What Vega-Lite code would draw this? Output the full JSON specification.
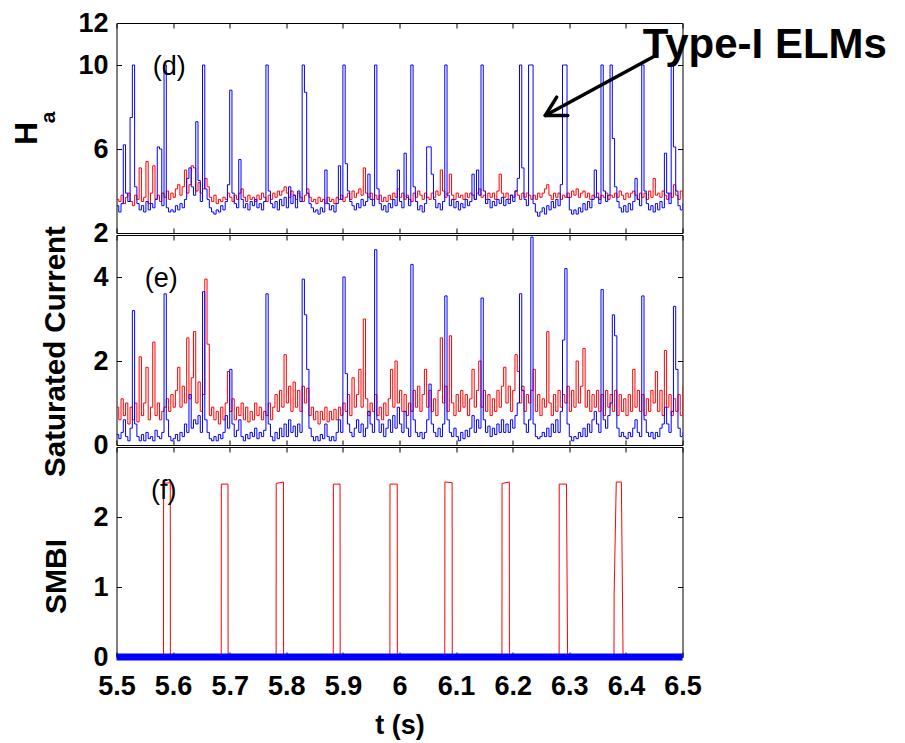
{
"$schema": "https://vega.github.io/schema/vega-lite/v6.json",
"background": "white",
"padding": {"left": 9.5, "top": 8, "right": 5, "bottom": 5},
"config": {
  "view": {"stroke": "black", "strokeWidth": 1},
  "font": "Liberation Sans",
  "axis": {"zindex": 1, "grid": false, "domain": false, "tickColor": "black", "tickSize": -5, "tickWidth": 1, "labelColor": "black", "labelFont": "Liberation Sans", "labelFontWeight": "bold", "titleColor": "black", "titleFont": "Liberation Sans", "titleFontWeight": "bold", "labelOverlap": false, "labelFlush": false}
},
"datasets": {
"sig": [
{"t":5.500,"hb":3.3,"hr":3.6,"sb":0.25,"sr":0.9},
{"t":5.504,"hb":3.0,"hr":3.5,"sb":0.15,"sr":0.6},
{"t":5.508,"hb":3.4,"hr":3.8,"sb":0.3,"sr":1.1},
{"t":5.512,"hb":6.2,"hr":3.4,"sb":0.6,"sr":0.7},
{"t":5.516,"hb":3.9,"hr":3.7,"sb":0.2,"sr":1.0},
{"t":5.520,"hb":3.5,"hr":3.9,"sb":0.1,"sr":0.5},
{"t":5.524,"hb":7.5,"hr":3.5,"sb":0.4,"sr":0.9},
{"t":5.528,"hb":10,"hr":3.3,"sb":3.2,"sr":0.6},
{"t":5.532,"hb":4.2,"hr":3.8,"sb":0.5,"sr":1.0},
{"t":5.536,"hb":3.4,"hr":3.6,"sb":0.2,"sr":0.55},
{"t":5.540,"hb":3.1,"hr":5.1,"sb":0.1,"sr":2.1},
{"t":5.544,"hb":3.3,"hr":3.5,"sb":0.25,"sr":0.7},
{"t":5.548,"hb":3.0,"hr":3.7,"sb":0.1,"sr":1.0},
{"t":5.552,"hb":3.5,"hr":5.4,"sb":0.3,"sr":1.85},
{"t":5.556,"hb":3.1,"hr":3.4,"sb":0.15,"sr":0.6},
{"t":5.560,"hb":3.4,"hr":3.9,"sb":0.2,"sr":0.9},
{"t":5.564,"hb":3.2,"hr":5.2,"sb":0.1,"sr":2.45},
{"t":5.568,"hb":3.6,"hr":3.6,"sb":0.35,"sr":0.7},
{"t":5.572,"hb":6.1,"hr":3.8,"sb":0.2,"sr":1.0},
{"t":5.576,"hb":6.0,"hr":3.5,"sb":0.15,"sr":0.6},
{"t":5.580,"hb":3.3,"hr":3.9,"sb":0.3,"sr":0.8},
{"t":5.584,"hb":10,"hr":3.7,"sb":3.6,"sr":0.9},
{"t":5.588,"hb":3.2,"hr":4.0,"sb":0.6,"sr":1.1},
{"t":5.592,"hb":3.0,"hr":3.6,"sb":0.2,"sr":0.8},
{"t":5.596,"hb":3.1,"hr":3.9,"sb":0.1,"sr":1.2},
{"t":5.600,"hb":3.0,"hr":3.7,"sb":0.15,"sr":0.9},
{"t":5.604,"hb":3.3,"hr":4.1,"sb":0.25,"sr":1.3},
{"t":5.608,"hb":3.1,"hr":4.3,"sb":0.1,"sr":1.85},
{"t":5.612,"hb":3.4,"hr":3.8,"sb":0.3,"sr":0.9},
{"t":5.616,"hb":3.2,"hr":4.2,"sb":0.2,"sr":1.4},
{"t":5.620,"hb":3.6,"hr":5.0,"sb":0.5,"sr":1.0},
{"t":5.624,"hb":4.6,"hr":3.9,"sb":0.3,"sr":2.55},
{"t":5.628,"hb":5.1,"hr":4.3,"sb":1.2,"sr":1.1},
{"t":5.632,"hb":4.2,"hr":5.2,"sb":0.4,"sr":1.6},
{"t":5.636,"hb":3.8,"hr":5.1,"sb":0.6,"sr":2.7},
{"t":5.640,"hb":7.3,"hr":4.0,"sb":0.5,"sr":1.0},
{"t":5.644,"hb":4.5,"hr":4.4,"sb":0.7,"sr":1.5},
{"t":5.648,"hb":3.5,"hr":3.9,"sb":0.3,"sr":0.8},
{"t":5.652,"hb":10,"hr":4.1,"sb":3.65,"sr":1.2},
{"t":5.656,"hb":4.1,"hr":4.6,"sb":0.6,"sr":3.95},
{"t":5.660,"hb":3.6,"hr":4.2,"sb":0.3,"sr":2.4},
{"t":5.664,"hb":3.2,"hr":3.7,"sb":0.15,"sr":0.7},
{"t":5.668,"hb":3.0,"hr":3.5,"sb":0.1,"sr":0.9},
{"t":5.672,"hb":2.9,"hr":3.8,"sb":0.2,"sr":0.6},
{"t":5.676,"hb":3.1,"hr":3.4,"sb":0.1,"sr":0.8},
{"t":5.680,"hb":3.0,"hr":3.6,"sb":0.25,"sr":0.5},
{"t":5.684,"hb":3.3,"hr":3.5,"sb":0.15,"sr":0.9},
{"t":5.688,"hb":3.1,"hr":3.7,"sb":0.3,"sr":0.6},
{"t":5.692,"hb":3.5,"hr":3.6,"sb":0.7,"sr":1.0},
{"t":5.696,"hb":4.3,"hr":3.9,"sb":0.4,"sr":1.75},
{"t":5.700,"hb":8.8,"hr":3.7,"sb":1.8,"sr":0.8},
{"t":5.704,"hb":3.9,"hr":3.5,"sb":0.5,"sr":1.1},
{"t":5.708,"hb":3.4,"hr":3.8,"sb":0.2,"sr":0.6},
{"t":5.712,"hb":3.2,"hr":3.6,"sb":0.35,"sr":0.9},
{"t":5.716,"hb":5.5,"hr":3.9,"sb":0.6,"sr":0.7},
{"t":5.720,"hb":3.6,"hr":4.1,"sb":0.2,"sr":1.0},
{"t":5.724,"hb":3.2,"hr":3.7,"sb":0.1,"sr":0.6},
{"t":5.728,"hb":3.4,"hr":3.5,"sb":0.25,"sr":0.9},
{"t":5.732,"hb":3.1,"hr":3.8,"sb":0.15,"sr":0.55},
{"t":5.736,"hb":3.5,"hr":3.6,"sb":0.3,"sr":0.8},
{"t":5.740,"hb":3.3,"hr":3.7,"sb":0.2,"sr":0.6},
{"t":5.744,"hb":3.6,"hr":3.5,"sb":0.4,"sr":1.0},
{"t":5.748,"hb":3.2,"hr":3.8,"sb":0.15,"sr":0.7},
{"t":5.752,"hb":3.4,"hr":3.6,"sb":0.3,"sr":0.9},
{"t":5.756,"hb":3.1,"hr":3.9,"sb":0.2,"sr":0.6},
{"t":5.760,"hb":3.5,"hr":3.7,"sb":0.35,"sr":0.8},
{"t":5.764,"hb":10,"hr":3.5,"sb":3.6,"sr":0.7},
{"t":5.768,"hb":4.0,"hr":3.8,"sb":0.5,"sr":1.0},
{"t":5.772,"hb":3.4,"hr":3.6,"sb":0.2,"sr":0.6},
{"t":5.776,"hb":3.2,"hr":3.9,"sb":0.1,"sr":0.9},
{"t":5.780,"hb":3.5,"hr":3.7,"sb":0.3,"sr":1.2},
{"t":5.784,"hb":3.1,"hr":4.0,"sb":0.15,"sr":0.8},
{"t":5.788,"hb":3.6,"hr":3.8,"sb":0.4,"sr":1.3},
{"t":5.792,"hb":3.3,"hr":4.0,"sb":0.2,"sr":0.9},
{"t":5.796,"hb":3.7,"hr":4.2,"sb":0.5,"sr":2.15},
{"t":5.800,"hb":3.2,"hr":3.9,"sb":0.2,"sr":1.0},
{"t":5.804,"hb":4.2,"hr":3.7,"sb":0.6,"sr":1.4},
{"t":5.808,"hb":3.4,"hr":4.0,"sb":0.3,"sr":0.8},
{"t":5.812,"hb":3.8,"hr":3.8,"sb":0.45,"sr":1.5},
{"t":5.816,"hb":3.2,"hr":3.6,"sb":0.2,"sr":0.9},
{"t":5.820,"hb":4.0,"hr":3.9,"sb":0.5,"sr":1.3},
{"t":5.824,"hb":3.5,"hr":3.7,"sb":0.3,"sr":0.8},
{"t":5.828,"hb":10,"hr":3.5,"sb":3.95,"sr":1.4},
{"t":5.832,"hb":8.7,"hr":3.8,"sb":3.1,"sr":1.0},
{"t":5.836,"hb":3.9,"hr":4.1,"sb":1.8,"sr":1.35},
{"t":5.840,"hb":3.4,"hr":3.7,"sb":0.4,"sr":0.7},
{"t":5.844,"hb":3.2,"hr":3.5,"sb":0.2,"sr":0.9},
{"t":5.848,"hb":3.0,"hr":3.6,"sb":0.1,"sr":0.6},
{"t":5.852,"hb":3.1,"hr":3.4,"sb":0.2,"sr":0.8},
{"t":5.856,"hb":2.9,"hr":3.7,"sb":0.1,"sr":0.5},
{"t":5.860,"hb":3.2,"hr":3.5,"sb":0.25,"sr":0.8},
{"t":5.864,"hb":3.0,"hr":3.6,"sb":0.15,"sr":0.6},
{"t":5.868,"hb":5.0,"hr":3.4,"sb":0.5,"sr":0.9},
{"t":5.872,"hb":3.4,"hr":3.7,"sb":0.2,"sr":0.55},
{"t":5.876,"hb":3.1,"hr":3.5,"sb":0.1,"sr":0.8},
{"t":5.880,"hb":3.3,"hr":3.6,"sb":0.2,"sr":0.6},
{"t":5.884,"hb":3.0,"hr":3.4,"sb":0.1,"sr":0.85},
{"t":5.888,"hb":3.4,"hr":3.7,"sb":0.3,"sr":0.6},
{"t":5.892,"hb":5.2,"hr":3.6,"sb":0.6,"sr":0.9},
{"t":5.896,"hb":3.6,"hr":3.8,"sb":0.3,"sr":0.7},
{"t":5.900,"hb":10,"hr":3.5,"sb":4.0,"sr":1.0},
{"t":5.904,"hb":5.3,"hr":3.7,"sb":1.7,"sr":0.8},
{"t":5.908,"hb":4.0,"hr":3.9,"sb":0.5,"sr":1.2},
{"t":5.912,"hb":3.5,"hr":3.6,"sb":0.3,"sr":0.7},
{"t":5.916,"hb":3.3,"hr":4.0,"sb":0.2,"sr":1.6},
{"t":5.920,"hb":3.1,"hr":3.7,"sb":0.4,"sr":0.9},
{"t":5.924,"hb":3.4,"hr":3.9,"sb":0.6,"sr":1.2},
{"t":5.928,"hb":3.2,"hr":4.1,"sb":0.3,"sr":1.8},
{"t":5.932,"hb":3.6,"hr":3.8,"sb":0.5,"sr":0.9},
{"t":5.936,"hb":3.3,"hr":5.1,"sb":0.2,"sr":3.0},
{"t":5.940,"hb":3.5,"hr":3.9,"sb":0.4,"sr":1.1},
{"t":5.944,"hb":4.8,"hr":3.7,"sb":0.8,"sr":0.7},
{"t":5.948,"hb":3.6,"hr":3.9,"sb":0.5,"sr":1.0},
{"t":5.952,"hb":3.3,"hr":3.6,"sb":0.3,"sr":0.8},
{"t":5.956,"hb":10,"hr":3.8,"sb":4.65,"sr":1.2},
{"t":5.960,"hb":4.1,"hr":3.6,"sb":0.6,"sr":0.7},
{"t":5.964,"hb":3.4,"hr":3.8,"sb":0.3,"sr":0.9},
{"t":5.968,"hb":3.1,"hr":3.5,"sb":0.5,"sr":0.6},
{"t":5.972,"hb":3.3,"hr":3.7,"sb":0.2,"sr":1.0},
{"t":5.976,"hb":3.0,"hr":3.5,"sb":0.4,"sr":0.7},
{"t":5.980,"hb":3.4,"hr":3.8,"sb":0.6,"sr":1.1},
{"t":5.984,"hb":3.2,"hr":3.6,"sb":0.3,"sr":1.8},
{"t":5.988,"hb":3.6,"hr":3.9,"sb":0.7,"sr":0.9},
{"t":5.992,"hb":3.3,"hr":3.7,"sb":0.4,"sr":2.0},
{"t":5.996,"hb":5.0,"hr":4.1,"sb":0.9,"sr":1.0},
{"t":6.000,"hb":3.5,"hr":3.7,"sb":0.5,"sr":1.3},
{"t":6.004,"hb":3.2,"hr":3.9,"sb":0.3,"sr":0.8},
{"t":6.008,"hb":5.8,"hr":3.6,"sb":0.8,"sr":1.2},
{"t":6.012,"hb":3.7,"hr":3.8,"sb":0.4,"sr":0.7},
{"t":6.016,"hb":3.3,"hr":3.6,"sb":0.2,"sr":1.0},
{"t":6.020,"hb":10,"hr":3.5,"sb":4.3,"sr":0.8},
{"t":6.024,"hb":4.2,"hr":3.9,"sb":0.6,"sr":1.3},
{"t":6.028,"hb":3.5,"hr":3.7,"sb":0.3,"sr":0.9},
{"t":6.032,"hb":3.1,"hr":4.0,"sb":0.2,"sr":1.4},
{"t":6.036,"hb":3.3,"hr":3.8,"sb":0.3,"sr":0.8},
{"t":6.040,"hb":3.0,"hr":3.6,"sb":0.15,"sr":1.2},
{"t":6.044,"hb":3.4,"hr":3.9,"sb":0.3,"sr":1.8},
{"t":6.048,"hb":6.1,"hr":3.7,"sb":0.6,"sr":0.9},
{"t":6.052,"hb":6.1,"hr":3.6,"sb":1.45,"sr":1.3},
{"t":6.056,"hb":4.8,"hr":3.9,"sb":0.5,"sr":0.8},
{"t":6.060,"hb":3.6,"hr":3.7,"sb":0.3,"sr":1.1},
{"t":6.064,"hb":3.2,"hr":4.0,"sb":0.2,"sr":0.7},
{"t":6.068,"hb":3.4,"hr":3.8,"sb":0.4,"sr":1.3},
{"t":6.072,"hb":3.1,"hr":5.0,"sb":0.2,"sr":2.55},
{"t":6.076,"hb":3.5,"hr":4.0,"sb":0.5,"sr":1.0},
{"t":6.080,"hb":10,"hr":3.7,"sb":3.55,"sr":1.4},
{"t":6.084,"hb":3.8,"hr":3.9,"sb":0.6,"sr":0.8},
{"t":6.088,"hb":3.3,"hr":4.8,"sb":0.3,"sr":2.6},
{"t":6.092,"hb":3.6,"hr":3.8,"sb":0.2,"sr":1.0},
{"t":6.096,"hb":3.2,"hr":3.6,"sb":0.4,"sr":0.7},
{"t":6.100,"hb":3.5,"hr":3.9,"sb":0.2,"sr":1.2},
{"t":6.104,"hb":3.1,"hr":3.7,"sb":0.1,"sr":0.8},
{"t":6.108,"hb":3.4,"hr":3.8,"sb":0.3,"sr":1.3},
{"t":6.112,"hb":3.2,"hr":3.6,"sb":0.15,"sr":0.9},
{"t":6.116,"hb":3.6,"hr":3.9,"sb":0.35,"sr":1.2},
{"t":6.120,"hb":3.3,"hr":3.7,"sb":0.2,"sr":0.7},
{"t":6.124,"hb":3.5,"hr":3.9,"sb":0.4,"sr":1.1},
{"t":6.128,"hb":4.8,"hr":3.8,"sb":0.7,"sr":1.8},
{"t":6.132,"hb":3.6,"hr":3.6,"sb":0.3,"sr":0.9},
{"t":6.136,"hb":5.0,"hr":3.9,"sb":0.6,"sr":1.3},
{"t":6.140,"hb":3.8,"hr":4.1,"sb":0.4,"sr":2.0},
{"t":6.144,"hb":10,"hr":3.7,"sb":3.5,"sr":0.9},
{"t":6.148,"hb":4.0,"hr":3.8,"sb":0.6,"sr":1.3},
{"t":6.152,"hb":3.4,"hr":3.6,"sb":0.3,"sr":0.8},
{"t":6.156,"hb":3.6,"hr":3.9,"sb":0.45,"sr":1.2},
{"t":6.160,"hb":3.2,"hr":3.7,"sb":0.2,"sr":0.7},
{"t":6.164,"hb":3.5,"hr":3.9,"sb":0.4,"sr":1.1},
{"t":6.168,"hb":3.3,"hr":3.6,"sb":0.25,"sr":0.8},
{"t":6.172,"hb":3.6,"hr":4.0,"sb":0.5,"sr":1.3},
{"t":6.176,"hb":3.4,"hr":4.8,"sb":0.3,"sr":0.9},
{"t":6.180,"hb":3.7,"hr":3.9,"sb":0.6,"sr":1.4},
{"t":6.184,"hb":3.3,"hr":3.7,"sb":0.3,"sr":1.85},
{"t":6.188,"hb":3.6,"hr":3.9,"sb":0.5,"sr":1.0},
{"t":6.192,"hb":3.4,"hr":3.6,"sb":0.3,"sr":1.4},
{"t":6.196,"hb":3.8,"hr":3.8,"sb":0.6,"sr":0.8},
{"t":6.200,"hb":3.5,"hr":3.7,"sb":0.4,"sr":1.3},
{"t":6.204,"hb":4.0,"hr":4.0,"sb":0.7,"sr":2.15},
{"t":6.208,"hb":4.6,"hr":3.8,"sb":1.0,"sr":1.75},
{"t":6.212,"hb":10,"hr":3.6,"sb":3.6,"sr":1.0},
{"t":6.216,"hb":5.1,"hr":3.9,"sb":1.3,"sr":1.4},
{"t":6.220,"hb":3.6,"hr":3.7,"sb":0.5,"sr":0.8},
{"t":6.224,"hb":3.3,"hr":3.9,"sb":0.3,"sr":1.2},
{"t":6.228,"hb":10,"hr":3.8,"sb":0.6,"sr":1.0},
{"t":6.232,"hb":10,"hr":3.6,"sb":4.95,"sr":1.3},
{"t":6.236,"hb":3.4,"hr":3.8,"sb":0.5,"sr":1.8},
{"t":6.240,"hb":3.0,"hr":3.6,"sb":0.2,"sr":0.8},
{"t":6.244,"hb":2.8,"hr":3.9,"sb":0.15,"sr":1.2},
{"t":6.248,"hb":3.0,"hr":3.7,"sb":0.2,"sr":0.7},
{"t":6.252,"hb":3.2,"hr":3.9,"sb":0.3,"sr":1.1},
{"t":6.256,"hb":2.9,"hr":4.1,"sb":0.2,"sr":0.9},
{"t":6.260,"hb":3.3,"hr":4.3,"sb":0.4,"sr":2.7},
{"t":6.264,"hb":3.1,"hr":3.8,"sb":0.2,"sr":1.0},
{"t":6.268,"hb":3.5,"hr":3.6,"sb":0.5,"sr":0.7},
{"t":6.272,"hb":3.2,"hr":3.9,"sb":0.3,"sr":1.2},
{"t":6.276,"hb":3.6,"hr":3.7,"sb":0.6,"sr":0.8},
{"t":6.280,"hb":3.3,"hr":3.9,"sb":0.3,"sr":1.3},
{"t":6.284,"hb":4.3,"hr":3.6,"sb":0.8,"sr":0.9},
{"t":6.288,"hb":10,"hr":3.8,"sb":2.5,"sr":1.2},
{"t":6.292,"hb":10,"hr":3.7,"sb":4.2,"sr":1.0},
{"t":6.296,"hb":3.7,"hr":3.9,"sb":0.5,"sr":1.4},
{"t":6.300,"hb":3.1,"hr":3.7,"sb":0.2,"sr":0.8},
{"t":6.304,"hb":2.9,"hr":4.0,"sb":0.1,"sr":1.3},
{"t":6.308,"hb":3.1,"hr":3.8,"sb":0.2,"sr":0.9},
{"t":6.312,"hb":2.9,"hr":4.1,"sb":0.15,"sr":2.0},
{"t":6.316,"hb":3.2,"hr":3.7,"sb":0.3,"sr":1.0},
{"t":6.320,"hb":3.0,"hr":3.9,"sb":0.2,"sr":1.4},
{"t":6.324,"hb":3.4,"hr":4.0,"sb":0.4,"sr":2.3},
{"t":6.328,"hb":3.1,"hr":3.7,"sb":0.2,"sr":0.9},
{"t":6.332,"hb":3.5,"hr":3.9,"sb":0.5,"sr":1.3},
{"t":6.336,"hb":3.2,"hr":3.6,"sb":0.3,"sr":0.8},
{"t":6.340,"hb":3.6,"hr":3.8,"sb":0.6,"sr":1.2},
{"t":6.344,"hb":5.0,"hr":3.7,"sb":0.8,"sr":0.9},
{"t":6.348,"hb":3.7,"hr":3.9,"sb":0.5,"sr":1.3},
{"t":6.352,"hb":3.4,"hr":3.6,"sb":0.3,"sr":0.8},
{"t":6.356,"hb":10,"hr":3.8,"sb":3.7,"sr":1.2},
{"t":6.360,"hb":4.0,"hr":3.7,"sb":0.6,"sr":0.7},
{"t":6.364,"hb":3.5,"hr":3.9,"sb":0.4,"sr":1.3},
{"t":6.368,"hb":3.8,"hr":3.6,"sb":0.7,"sr":0.9},
{"t":6.372,"hb":10,"hr":3.8,"sb":1.0,"sr":1.2},
{"t":6.376,"hb":6.5,"hr":3.7,"sb":3.1,"sr":0.8},
{"t":6.380,"hb":4.2,"hr":3.9,"sb":2.6,"sr":1.3},
{"t":6.384,"hb":3.5,"hr":3.7,"sb":0.4,"sr":0.7},
{"t":6.388,"hb":3.2,"hr":4.0,"sb":0.2,"sr":1.2},
{"t":6.392,"hb":3.0,"hr":3.8,"sb":0.3,"sr":0.8},
{"t":6.396,"hb":3.3,"hr":3.6,"sb":0.2,"sr":1.1},
{"t":6.400,"hb":3.0,"hr":3.9,"sb":0.15,"sr":0.7},
{"t":6.404,"hb":3.4,"hr":3.7,"sb":0.3,"sr":1.2},
{"t":6.408,"hb":3.1,"hr":3.9,"sb":0.2,"sr":0.8},
{"t":6.412,"hb":3.5,"hr":4.0,"sb":0.4,"sr":1.8},
{"t":6.416,"hb":4.6,"hr":3.8,"sb":0.6,"sr":0.9},
{"t":6.420,"hb":3.6,"hr":3.6,"sb":0.3,"sr":1.3},
{"t":6.424,"hb":3.3,"hr":3.9,"sb":0.2,"sr":0.8},
{"t":6.428,"hb":10,"hr":3.7,"sb":3.55,"sr":1.2},
{"t":6.432,"hb":4.0,"hr":3.9,"sb":0.6,"sr":0.7},
{"t":6.436,"hb":3.4,"hr":3.6,"sb":0.3,"sr":1.1},
{"t":6.440,"hb":3.1,"hr":4.0,"sb":0.2,"sr":0.8},
{"t":6.444,"hb":3.3,"hr":3.7,"sb":0.3,"sr":1.3},
{"t":6.448,"hb":3.0,"hr":4.6,"sb":0.15,"sr":1.0},
{"t":6.452,"hb":3.4,"hr":3.8,"sb":0.3,"sr":1.75},
{"t":6.456,"hb":3.1,"hr":3.9,"sb":0.2,"sr":0.8},
{"t":6.460,"hb":3.5,"hr":3.7,"sb":0.4,"sr":1.3},
{"t":6.464,"hb":3.2,"hr":4.0,"sb":0.5,"sr":0.7},
{"t":6.468,"hb":5.8,"hr":3.8,"sb":0.9,"sr":2.25},
{"t":6.472,"hb":3.9,"hr":3.6,"sb":0.5,"sr":0.9},
{"t":6.476,"hb":3.4,"hr":3.9,"sb":0.3,"sr":1.2},
{"t":6.480,"hb":10,"hr":3.7,"sb":0.8,"sr":0.7},
{"t":6.484,"hb":6.1,"hr":4.3,"sb":3.3,"sr":1.1},
{"t":6.488,"hb":4.0,"hr":3.8,"sb":1.8,"sr":0.8},
{"t":6.492,"hb":3.3,"hr":3.6,"sb":0.4,"sr":1.2},
{"t":6.496,"hb":3.1,"hr":4.0,"sb":0.2,"sr":0.7},
{"t":6.500,"hb":3.4,"hr":3.7,"sb":0.3,"sr":1.4}
],
"smbi": [
{"t":5.5,"v":0},{"t":5.583,"v":0},{"t":5.5832,"v":2.48},{"t":5.595,"v":2.49},{"t":5.5952,"v":0},
{"t":5.685,"v":0},{"t":5.6852,"v":2.47},{"t":5.697,"v":2.47},{"t":5.6972,"v":0},
{"t":5.782,"v":0},{"t":5.7822,"v":2.48},{"t":5.795,"v":2.5},{"t":5.7952,"v":0},
{"t":5.883,"v":0},{"t":5.8832,"v":2.47},{"t":5.895,"v":2.47},{"t":5.8952,"v":0},
{"t":5.983,"v":0},{"t":5.9832,"v":2.47},{"t":5.996,"v":2.47},{"t":5.9962,"v":0},
{"t":6.080,"v":0},{"t":6.0802,"v":2.5},{"t":6.093,"v":2.49},{"t":6.0932,"v":0},
{"t":6.181,"v":0},{"t":6.1812,"v":2.48},{"t":6.194,"v":2.5},{"t":6.1942,"v":0},
{"t":6.282,"v":0},{"t":6.2822,"v":2.47},{"t":6.295,"v":2.47},{"t":6.297,"v":0},
{"t":6.379,"v":0},{"t":6.3792,"v":0.9},{"t":6.383,"v":2.5},{"t":6.392,"v":2.5},{"t":6.395,"v":0},
{"t":6.5,"v":0}
],
"base": [
{"t":5.5,"v":0},{"t":5.75,"v":0},{"t":6.0,"v":0},{"t":6.25,"v":0},{"t":6.5,"v":0}
]
},
"bounds": "flush",
"spacing": 2,
"vconcat": [
{
 "width": 566, "height": 210,
 "data": {"name": "sig"},
 "layer": [
  {"mark": {"type": "line", "color": "#ff0000", "strokeWidth": 1, "interpolate": "step-after", "clip": true},
   "encoding": {
    "x": {"field": "t", "type": "quantitative", "scale": {"domain": [5.5, 6.5], "nice": false, "zero": false},
          "axis": {"orient": "bottom", "values": [5.5,5.6,5.7,5.8,5.9,6,6.1,6.2,6.3,6.4,6.5], "labels": false, "title": null}},
    "y": {"field": "hr", "type": "quantitative", "scale": {"domain": [2, 12], "nice": false, "zero": false},
          "axis": {"orient": "left", "values": [2,6,10,12], "labelFontSize": 27, "labelPadding": 13.5, "title": "H", "titleFontSize": 32, "titlePadding": 34, "titleY": 110}}
   }},
  {"mark": {"type": "line", "color": "#0000ff", "strokeWidth": 1, "interpolate": "step-after", "clip": true},
   "encoding": {
    "x": {"field": "t", "type": "quantitative", "scale": {"domain": [5.5, 6.5], "nice": false, "zero": false},
          "axis": {"orient": "top", "values": [5.5,5.6,5.7,5.8,5.9,6,6.1,6.2,6.3,6.4,6.5], "labels": false, "title": null}},
    "y": {"field": "hb", "type": "quantitative", "scale": {"domain": [2, 12], "nice": false, "zero": false},
          "axis": {"orient": "right", "values": [2,6,10,12], "labels": false, "title": null}}
   }},
  {"data": {"values": [{"t": 5.3802, "v": 7.5, "label": "a"}]},
   "mark": {"type": "text", "align": "center", "baseline": "middle", "angle": 270, "fontSize": 21, "fontWeight": "bold", "font": "Liberation Sans", "color": "black", "clip": false},
   "encoding": {
    "x": {"field": "t", "type": "quantitative", "scale": {"domain": [5.5, 6.5], "nice": false, "zero": false}, "axis": null},
    "y": {"field": "v", "type": "quantitative", "scale": {"domain": [2, 12], "nice": false, "zero": false}, "axis": null},
    "text": {"field": "label"}
   }},
  {"data": {"values": [{"t": 5.564, "v": 9.9, "label": "(d)"}]},
   "mark": {"type": "text", "align": "left", "baseline": "middle", "fontSize": 27, "font": "Liberation Sans", "color": "black"},
   "encoding": {
    "x": {"field": "t", "type": "quantitative", "scale": {"domain": [5.5, 6.5], "nice": false, "zero": false}, "axis": null},
    "y": {"field": "v", "type": "quantitative", "scale": {"domain": [2, 12], "nice": false, "zero": false}, "axis": null},
    "text": {"field": "label"}
   }},
  {"data": {"values": [{"x1": 6.4502, "y1": 10.42, "x2": 6.2576, "y2": 7.595}, {"x1": 6.2576, "y1": 7.595, "x2": 6.2777, "y2": 8.467}, {"x1": 6.2576, "y1": 7.595, "x2": 6.2972, "y2": 7.595}]},
   "mark": {"type": "rule", "color": "black", "strokeWidth": 3.5, "strokeCap": "round"},
   "encoding": {
    "x": {"field": "x1", "type": "quantitative", "scale": {"domain": [5.5, 6.5], "nice": false, "zero": false}, "axis": null},
    "y": {"field": "y1", "type": "quantitative", "scale": {"domain": [2, 12], "nice": false, "zero": false}, "axis": null},
    "x2": {"field": "x2"},
    "y2": {"field": "y2"}
   }},
  {"data": {"values": [{"t": 6.4297, "v": 10.34, "label": "Type-I ELMs"}]},
   "mark": {"type": "text", "align": "left", "baseline": "alphabetic", "fontSize": 42, "fontWeight": "bold", "font": "Liberation Sans", "color": "black"},
   "encoding": {
    "x": {"field": "t", "type": "quantitative", "scale": {"domain": [5.5, 6.5], "nice": false, "zero": false}, "axis": null},
    "y": {"field": "v", "type": "quantitative", "scale": {"domain": [2, 12], "nice": false, "zero": false}, "axis": null},
    "text": {"field": "label"}
   }}
 ],
 "resolve": {"axis": {"x": "independent", "y": "independent"}}
},
{
 "width": 566, "height": 210,
 "data": {"name": "sig"},
 "layer": [
  {"mark": {"type": "line", "color": "#ff0000", "strokeWidth": 1, "interpolate": "step-after", "clip": true},
   "encoding": {
    "x": {"field": "t", "type": "quantitative", "scale": {"domain": [5.5, 6.5], "nice": false, "zero": false},
          "axis": {"orient": "bottom", "values": [5.5,5.6,5.7,5.8,5.9,6,6.1,6.2,6.3,6.4,6.5], "labels": false, "title": null}},
    "y": {"field": "sr", "type": "quantitative", "scale": {"domain": [0, 5], "nice": false, "zero": false},
          "axis": {"orient": "left", "values": [0,2,4], "labelFontSize": 27, "labelPadding": 13.5, "title": "Saturated Current", "titleFontSize": 29.5, "titlePadding": 22, "titleY": 116}}
   }},
  {"mark": {"type": "line", "color": "#0000ff", "strokeWidth": 1, "interpolate": "step-after", "clip": true},
   "encoding": {
    "x": {"field": "t", "type": "quantitative", "scale": {"domain": [5.5, 6.5], "nice": false, "zero": false},
          "axis": {"orient": "top", "values": [5.5,5.6,5.7,5.8,5.9,6,6.1,6.2,6.3,6.4,6.5], "labels": false, "title": null}},
    "y": {"field": "sb", "type": "quantitative", "scale": {"domain": [0, 5], "nice": false, "zero": false},
          "axis": {"orient": "right", "values": [0,2,4], "labels": false, "title": null}}
   }},
  {"data": {"values": [{"t": 5.550, "v": 3.95, "label": "(e)"}]},
   "mark": {"type": "text", "align": "left", "baseline": "middle", "fontSize": 27, "font": "Liberation Sans", "color": "black"},
   "encoding": {
    "x": {"field": "t", "type": "quantitative", "scale": {"domain": [5.5, 6.5], "nice": false, "zero": false}, "axis": null},
    "y": {"field": "v", "type": "quantitative", "scale": {"domain": [0, 5], "nice": false, "zero": false}, "axis": null},
    "text": {"field": "label"}
   }}
 ],
 "resolve": {"axis": {"x": "independent", "y": "independent"}}
},
{
 "width": 566, "height": 210,
 "layer": [
  {"data": {"name": "smbi"},
   "mark": {"type": "line", "color": "#ff0000", "strokeWidth": 1, "clip": true},
   "encoding": {
    "x": {"field": "t", "type": "quantitative", "scale": {"domain": [5.5, 6.5], "nice": false, "zero": false},
          "axis": {"orient": "bottom", "values": [5.5,5.6,5.7,5.8,5.9,6,6.1,6.2,6.3,6.4,6.5], "format": "~g", "labelFontSize": 27, "labelPadding": 21, "title": "t (s)", "titleFontSize": 27, "titlePadding": 13}},
    "y": {"field": "v", "type": "quantitative", "scale": {"domain": [0, 3], "nice": false, "zero": false},
          "axis": {"orient": "left", "values": [0,1,2], "labelFontSize": 27, "labelPadding": 13.5, "title": "SMBI", "titleFontSize": 30, "titlePadding": 21, "titleY": 129}}
   }},
  {"data": {"name": "base"},
   "mark": {"type": "line", "color": "#0000ff", "strokeWidth": 7, "clip": false},
   "encoding": {
    "x": {"field": "t", "type": "quantitative", "scale": {"domain": [5.5, 6.5], "nice": false, "zero": false},
          "axis": {"orient": "top", "values": [5.5,5.6,5.7,5.8,5.9,6,6.1,6.2,6.3,6.4,6.5], "labels": false, "title": null}},
    "y": {"field": "v", "type": "quantitative", "scale": {"domain": [0, 3], "nice": false, "zero": false},
          "axis": {"orient": "right", "values": [0,1,2], "labels": false, "title": null}}
   }},
  {"data": {"values": [{"t": 5.561, "v": 2.37, "label": "(f)"}]},
   "mark": {"type": "text", "align": "left", "baseline": "middle", "fontSize": 27, "font": "Liberation Sans", "color": "black"},
   "encoding": {
    "x": {"field": "t", "type": "quantitative", "scale": {"domain": [5.5, 6.5], "nice": false, "zero": false}, "axis": null},
    "y": {"field": "v", "type": "quantitative", "scale": {"domain": [0, 3], "nice": false, "zero": false}, "axis": null},
    "text": {"field": "label"}
   }}
 ],
 "resolve": {"axis": {"x": "independent", "y": "independent"}}
}
]
}
